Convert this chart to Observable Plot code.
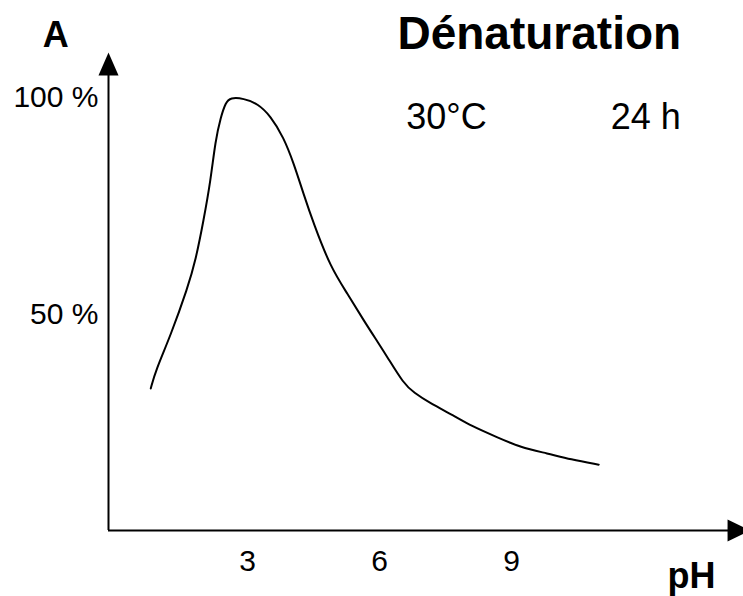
<!DOCTYPE html>
<html>
<head>
<meta charset="utf-8">
<script src="https://cdn.jsdelivr.net/npm/d3@7"></script>
<script src="https://cdn.jsdelivr.net/npm/@observablehq/plot@0.6"></script>
<style>
  html, body { margin: 0; padding: 0; background: #fff; overflow: hidden; }
  #chart { width: 743px; height: 596px; }
</style>
</head>
<body>
<div id="chart"></div>
<script>
// Curve: pH vs relative activity A (%)
const pH = [0.80, 0.91, 1.25, 1.64, 1.82, 2.00, 2.16, 2.27, 2.39, 2.50, 2.61, 2.91, 3.23, 3.52, 3.82, 4.05, 4.27, 4.50, 4.89, 5.27, 5.64, 5.98, 6.18, 6.55, 6.77, 7.16, 7.68, 8.07, 8.68, 9.20, 9.82, 10.34, 10.98];
const activity = [32.8, 36.9, 45.0, 56.1, 62.4, 71.6, 80.8, 90.1, 95.4, 98.8, 100, 99.8, 98.6, 95.8, 90.8, 84.8, 77.8, 70.9, 60.7, 54.7, 48.5, 43.2, 40.0, 33.9, 31.9, 29.3, 26.6, 24.2, 21.5, 19.2, 17.8, 16.4, 15.2];

const xTicks = [3, 6, 9];
const yTicks = [50, 100];
const yTickLabels = ["50 %", "100 %"];

const title = "Dénaturation";
const panelLetter = "A";
const conditions = ["30°C", "24 h"];
const xLabel = "pH";

// axis extents (data units)
const xMin = -0.16, xMax = 14.27, xArrowTip = 14.43;
const yMin = 0, yMax = 110.4;

const data = pH.map((p, i) => ({pH: p, A: activity[i]}));

const arrowUp = {draw(ctx) { ctx.moveTo(0, 0); ctx.lineTo(10, 23); ctx.lineTo(-10, 23); ctx.closePath(); }};
const arrowRight = {draw(ctx) { ctx.moveTo(0, 0); ctx.lineTo(-23, -11); ctx.lineTo(-23, 11); ctx.closePath(); }};

const font = "'Liberation Sans', Arial, Helvetica, sans-serif";

const chart = Plot.plot({
  width: 743,
  height: 596,
  marginLeft: 108,
  marginRight: 0,
  marginTop: 52,
  marginBottom: 66,
  style: {fontFamily: font, color: "#000", background: "#fff", overflow: "visible"},
  x: {domain: [xMin, xMax], axis: null},
  y: {domain: [yMin, yMax], axis: null},
  marks: [
    // tick labels (no tick marks in the original)
    Plot.text(xTicks, {x: d => d, y: yMin, text: d => String(d), dy: 31, fontSize: 30, fill: "#000"}),
    Plot.text(yTicks, {x: xMin, y: d => d, text: d => yTickLabels[yTicks.indexOf(d)], textAnchor: "end", dx: -10, fontSize: 30, fill: "#000"}),
    // axes with arrowheads
    Plot.ruleX([xMin], {y1: yMin, y2: yMax - 3, stroke: "#000", strokeWidth: 2}),
    Plot.ruleY([yMin], {x1: xMin, x2: xArrowTip - 0.3, stroke: "#000", strokeWidth: 2}),
    Plot.dot([{x: xMin, y: yMax}], {x: "x", y: "y", symbol: arrowUp, fill: "#000", stroke: null}),
    Plot.dot([{x: xArrowTip, y: yMin}], {x: "x", y: "y", symbol: arrowRight, fill: "#000", stroke: null}),
    // curve
    Plot.line(data, {x: "pH", y: "A", stroke: "#000", strokeWidth: 2, curve: "basis"}),
    // annotations
    Plot.text([panelLetter], {x: -1.36, y: 114.3, text: d => d, fontSize: 36, fontWeight: "bold", fill: "#000"}),
    Plot.text([title], {x: 9.63, y: 114.5, text: d => d, fontSize: 46, fontWeight: "bold", fill: "#000"}),
    Plot.text(conditions, {x: [7.52, 12.05], y: [95.5, 95.5], text: d => d, fontSize: 36, fill: "#000"}),
    Plot.text([xLabel], {x: 13.09, y: -10.6, text: d => d, fontSize: 36, fontWeight: "bold", fill: "#000"})
  ]
});
document.getElementById("chart").appendChild(chart);
</script>
</body>
</html>
